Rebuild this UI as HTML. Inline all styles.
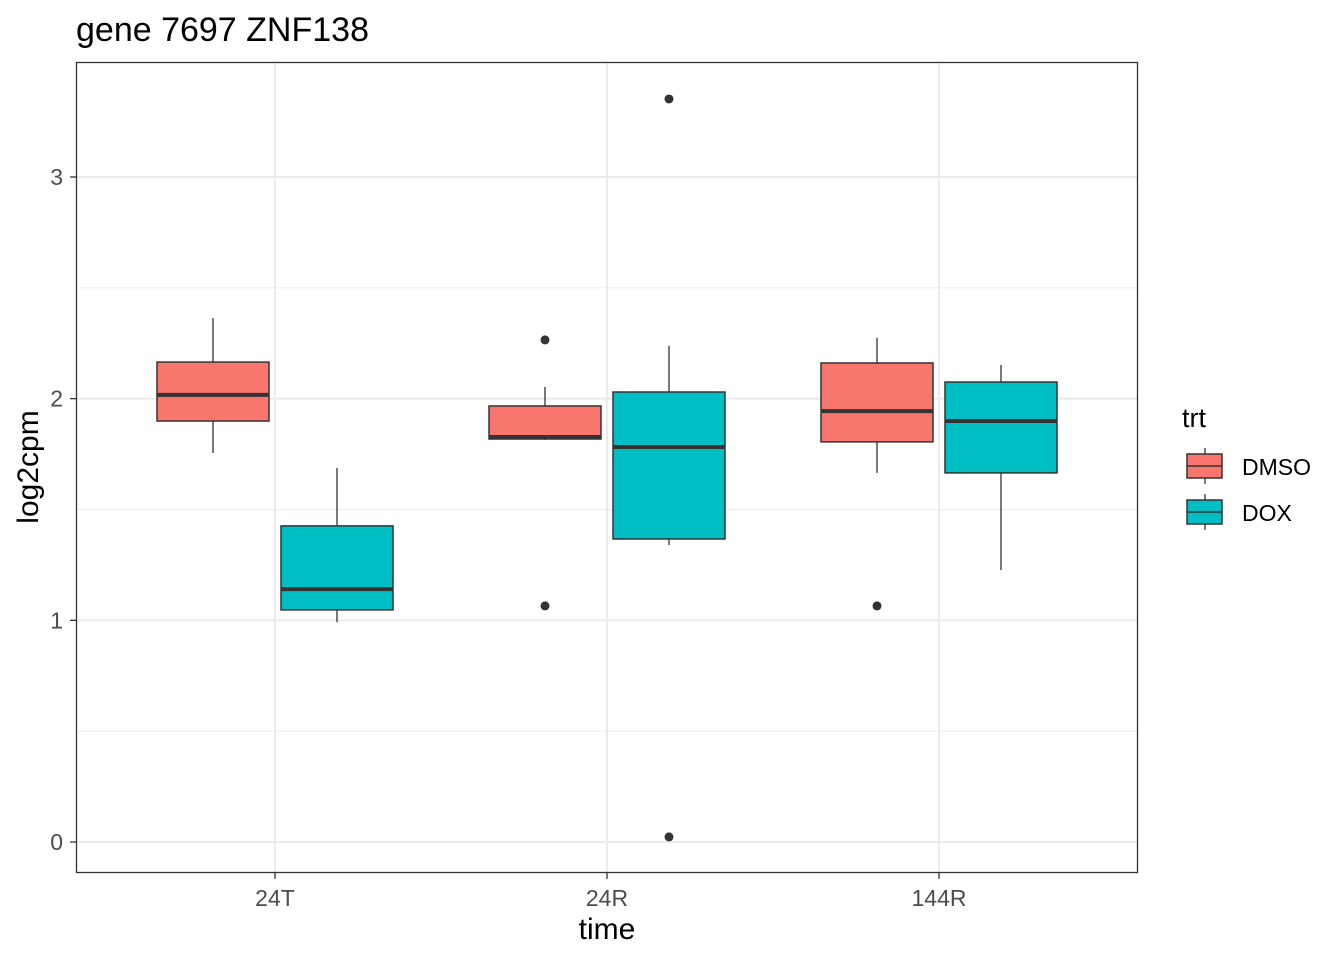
<!DOCTYPE html>
<html><head><meta charset="utf-8"><style>body{margin:0;background:#fff}svg text{font-family:"Liberation Sans",Arial,sans-serif}</style></head>
<body>
<svg id="chart" width="1344" height="960" viewBox="0 0 1344 960" xmlns="http://www.w3.org/2000/svg">
<rect width="1344" height="960" fill="#fff"/>
<text x="76" y="41" font-size="34" fill="#000">gene 7697 ZNF138</text>
<g id="grid"></g>
<g id="marks"></g>
<rect x="76.5" y="62.5" width="1061" height="810" fill="none" stroke="#333" stroke-width="1.3"/>
<g id="axes"></g>
<text x="607" y="939" font-size="30" text-anchor="middle" fill="#000">time</text>
<text transform="translate(38,467) rotate(-90)" font-size="30" text-anchor="middle" fill="#000">log2cpm</text>
<g id="legend">
<text x="1182" y="427" font-size="27" fill="#000">trt</text>
</g>
</svg>
<script>
const categories = ["24T","24R","144R"];
const groups = ["DMSO","DOX"];
const colors = ["#F8766D","#00BFC4"];
// [low, q1, median, q3, high] per category, per group
const dmsoStats = [[1.755,1.899,2.017,2.165,2.364],[1.814,1.818,1.827,1.967,2.053],[1.665,1.805,1.944,2.161,2.274]];
const doxStats = [[0.992,1.047,1.141,1.426,1.687],[1.340,1.367,1.782,2.030,2.238],[1.227,1.665,1.899,2.075,2.152]];
const dmsoOutliers = [[],[2.265,1.065],[1.065]];
const doxOutliers = [[],[3.352,0.023],[]];
const yTicks = [0,1,2,3];
const yMinor = [0.5,1.5,2.5];

const NS="http://www.w3.org/2000/svg";
const yS = v => 842 - v*221.67;
const xS = i => 275 + i*332;
function mk(parent, tag, attrs){const e=document.createElementNS(NS,tag);for(const k in attrs)e.setAttribute(k,attrs[k]);document.getElementById(parent).appendChild(e);return e;}

yMinor.forEach(v=>{const l=mk('grid','line',{x1:77,x2:1137,y1:yS(v),y2:yS(v),stroke:'#ebebeb','stroke-width':1});

});
yTicks.forEach(v=>{const l=mk('grid','line',{x1:77,x2:1137,y1:yS(v),y2:yS(v),stroke:'#ebebeb','stroke-width':2});


const t=mk('axes','line',{x1:70,x2:76,y1:yS(v),y2:yS(v),stroke:'#333','stroke-width':1.3});


const tx=mk('axes','text',{x:63,y:yS(v)+8,'font-size':23,'text-anchor':'end',fill:'#4d4d4d'});tx.textContent=v;

});
categories.forEach((c,i)=>{const l=mk('grid','line',{x1:xS(i),x2:xS(i),y1:63,y2:872,stroke:'#ebebeb','stroke-width':2});


const t=mk('axes','line',{x1:xS(i),x2:xS(i),y1:873,y2:879,stroke:'#333','stroke-width':1.3});


const tx=mk('axes','text',{x:xS(i),y:906,'font-size':23,'text-anchor':'middle',fill:'#4d4d4d'});tx.textContent=c;

});

function drawBox(cx, s, color, outs, name){
  const w=mk('marks','line',{x1:cx,x2:cx,y1:yS(s[4]),y2:yS(s[0]),stroke:'#333','stroke-width':1.3});
  
  
  const r=mk('marks','rect',{x:cx-56,y:yS(s[3]),width:112,height:yS(s[1])-yS(s[3]),fill:color,stroke:'#333','stroke-width':1.5});
  
  
  const m=mk('marks','line',{x1:cx-56,x2:cx+56,y1:yS(s[2]),y2:yS(s[2]),stroke:'#333','stroke-width':4});
  
  
  outs.forEach(o=>{const p=mk('marks','circle',{cx:cx,cy:yS(o),r:4.5,fill:'#333'});
  
  });
}
categories.forEach((c,i)=>{
  drawBox(xS(i)-62, dmsoStats[i], colors[0], dmsoOutliers[i], 'box-dmso-'+c);
  drawBox(xS(i)+62, doxStats[i], colors[1], doxOutliers[i], 'box-dox-'+c);
});
groups.forEach((g,i)=>{const y=466+i*46;
  const l=mk('legend','line',{x1:1205,x2:1205,y1:y-18,y2:y+18,stroke:'#333','stroke-width':1.3});
  
  
  const r=mk('legend','rect',{x:1187,y:y-12,width:35,height:24,fill:colors[i],stroke:'#333','stroke-width':1.5});
  
  
  const m=mk('legend','line',{x1:1187,x2:1222,y1:y,y2:y,stroke:'#333','stroke-width':1.5});
  
  
  const t=mk('legend','text',{x:1242,y:y+9,'font-size':23,fill:'#000'});t.textContent=g;
  
  
});
</script>
</body></html>
